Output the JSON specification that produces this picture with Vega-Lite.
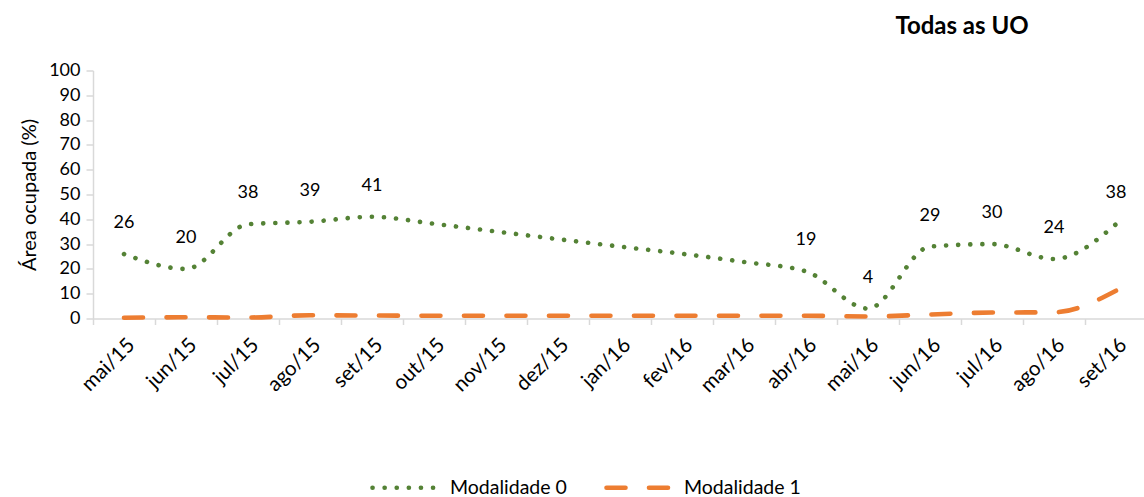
{
  "$schema": "https://vega.github.io/schema/vega-lite/v6.json",
  "autosize": "none",
  "width": 1054,
  "height": 248,
  "padding": {"left": 93, "top": 70.5, "right": 0, "bottom": 178.5},
  "background": "white",
  "title": {
    "text": "Todas as UO",
    "font": "Lato",
    "fontSize": 24,
    "fontWeight": "bold",
    "color": "#000000",
    "anchor": "middle",
    "baseline": "middle",
    "dx": 342,
    "offset": 11
  },
  "data": {
    "values": [
      {"mes": "mai/15", "serie": "Modalidade 0", "valor": 26},
      {"mes": "jun/15", "serie": "Modalidade 0", "valor": 20},
      {"mes": "jul/15", "serie": "Modalidade 0", "valor": 38},
      {"mes": "ago/15", "serie": "Modalidade 0", "valor": 39},
      {"mes": "set/15", "serie": "Modalidade 0", "valor": 41},
      {"mes": "out/15", "serie": "Modalidade 0", "valor": 38.2},
      {"mes": "nov/15", "serie": "Modalidade 0", "valor": 35.1},
      {"mes": "dez/15", "serie": "Modalidade 0", "valor": 32},
      {"mes": "jan/16", "serie": "Modalidade 0", "valor": 29},
      {"mes": "fev/16", "serie": "Modalidade 0", "valor": 26.1},
      {"mes": "mar/16", "serie": "Modalidade 0", "valor": 22.8},
      {"mes": "abr/16", "serie": "Modalidade 0", "valor": 19},
      {"mes": "mai/16", "serie": "Modalidade 0", "valor": 4},
      {"mes": "jun/16", "serie": "Modalidade 0", "valor": 29},
      {"mes": "jul/16", "serie": "Modalidade 0", "valor": 30},
      {"mes": "ago/16", "serie": "Modalidade 0", "valor": 24},
      {"mes": "set/16", "serie": "Modalidade 0", "valor": 38},
      {"mes": "mai/15", "serie": "Modalidade 1", "valor": 0.3},
      {"mes": "jun/15", "serie": "Modalidade 1", "valor": 0.5},
      {"mes": "jul/15", "serie": "Modalidade 1", "valor": 0.4},
      {"mes": "ago/15", "serie": "Modalidade 1", "valor": 1.3},
      {"mes": "set/15", "serie": "Modalidade 1", "valor": 1.2},
      {"mes": "out/15", "serie": "Modalidade 1", "valor": 1.1},
      {"mes": "nov/15", "serie": "Modalidade 1", "valor": 1.1},
      {"mes": "dez/15", "serie": "Modalidade 1", "valor": 1.1},
      {"mes": "jan/16", "serie": "Modalidade 1", "valor": 1.1},
      {"mes": "fev/16", "serie": "Modalidade 1", "valor": 1.1},
      {"mes": "mar/16", "serie": "Modalidade 1", "valor": 1.1},
      {"mes": "abr/16", "serie": "Modalidade 1", "valor": 1.1},
      {"mes": "mai/16", "serie": "Modalidade 1", "valor": 0.8},
      {"mes": "jun/16", "serie": "Modalidade 1", "valor": 1.6},
      {"mes": "jul/16", "serie": "Modalidade 1", "valor": 2.4},
      {"mes": "ago/16", "serie": "Modalidade 1", "valor": 2.5},
      {"mes": "set/16", "serie": "Modalidade 1", "valor": 11.2}
    ]
  },
  "encoding": {
    "x": {
      "field": "mes",
      "type": "ordinal",
      "sort": null,
      "scale": {"type": "band", "paddingInner": 0, "paddingOuter": 0},
      "axis": {
        "title": null,
        "labelAngle": -45,
        "labelPadding": 10,
        "labelFontSize": 20.5,
        "tickBand": "extent",
        "tickSize": 6
      }
    },
    "y": {
      "field": "valor",
      "type": "quantitative",
      "scale": {"domain": [0, 100], "nice": false},
      "axis": {
        "title": "Área ocupada (%)",
        "values": [0, 10, 20, 30, 40, 50, 60, 70, 80, 90, 100],
        "tickSize": 7,
        "labelPadding": 6,
        "titlePadding": 9,
        "titleFontSize": 20,
        "grid": false
      }
    }
  },
  "layer": [
    {
      "mark": {"type": "line", "interpolate": "monotone", "strokeWidth": 4.6, "strokeCap": "round"},
      "encoding": {
        "color": {
          "field": "serie",
          "type": "nominal",
          "scale": {"domain": ["Modalidade 0", "Modalidade 1"], "range": ["#548235", "#ED7D31"]},
          "legend": {
            "title": null,
            "orient": "none",
            "direction": "horizontal",
            "legendX": 277,
            "legendY": 381,
            "padding": 0,
            "symbolType": "stroke",
            "symbolSize": 4489,
            "symbolStrokeWidth": 4.6,
            "labelOffset": 8,
            "columnPadding": 30,
            "labelFont": "Lato",
            "labelFontSize": 19.5,
            "labelColor": "#000000",
            "encode": {"symbols": {"update": {"strokeCap": {"value": "round"}}}}
          }
        },
        "strokeDash": {
          "field": "serie",
          "type": "nominal",
          "scale": {"domain": ["Modalidade 0", "Modalidade 1"], "range": [[0.1, 12], [19, 23.5]]},
          "legend": null
        }
      }
    },
    {
      "transform": [
        {"filter": {"field": "serie", "equal": "Modalidade 0"}},
        {"filter": {"not": {"field": "mes", "oneOf": ["out/15", "nov/15", "dez/15", "jan/16", "fev/16", "mar/16"]}}}
      ],
      "mark": {"type": "text", "dy": -31, "baseline": "middle", "font": "Lato", "fontSize": 18, "color": "#000000"},
      "encoding": {
        "text": {"field": "valor", "type": "quantitative", "format": ".0f"}
      }
    }
  ],
  "config": {
    "view": {"stroke": null},
    "axis": {
      "domainColor": "#D9D9D9",
      "domainWidth": 1.5,
      "tickColor": "#D9D9D9",
      "tickWidth": 1.5,
      "labelFont": "Lato",
      "labelFontSize": 18,
      "labelColor": "#000000",
      "titleFont": "Lato",
      "titleFontSize": 18,
      "titleFontWeight": "normal",
      "titleColor": "#000000"
    }
  }
}
